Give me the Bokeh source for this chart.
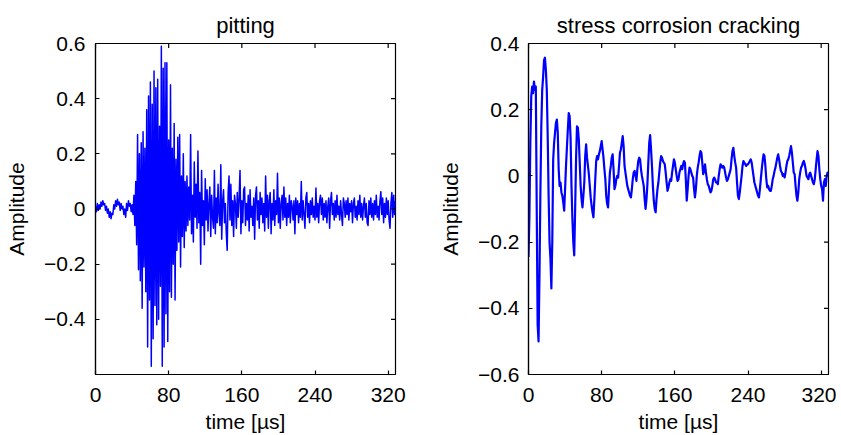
import numpy as np
from bokeh.plotting import figure
from bokeh.layouts import row
from bokeh.models import FixedTicker, Range1d
from bokeh.embed import file_html
from bokeh.resources import INLINE

# ---------------- data ----------------
sample_interval_us = 1.0  # one value per microsecond

pitting_amplitude = [
    .01, -.01, .02, -.005, .015, .0, .025, .01, .03, .015,
    .02, -.005, .01, -.015, .0, -.03, -.01, -.035, -.015, -.02,
    .015, .0, .03, .01, .035, .015, .025, -.005, .02, .0,
    .01, -.02, .0, -.03, .02, -.005, .03, .01, .02, -.01,
    .015, -.02, .05, -.06, .1, -.13, .27, -.22, .2, -.26,
    .24, -.36, .28, -.21, .22, -.3, .36, -.5, .41, -.33,
    .46, -.57, .38, -.47, .5, -.35, .44, -.42, .47, -.4,
    .3, -.28, .59, -.57, .51, -.5, .53, -.38, .53, -.48,
    .25, -.3, .45, -.32, .22, -.2, .31, -.33, .18, -.15,
    .26, -.12, .27, -.21, .12, -.1, .2, -.14, .1, -.08,
    .12, -.06, .08, -.04, .27, -.09, .05, -.12, .17, -.03,
    .09, -.07, .21, -.05, .06, -.2, .14, -.06, .03, -.13,
    .11, -.04, .07, -.08, .02, .08, -.1, .05, -.03, -.07,
    .14, -.09, .04, -.05, .09, -.02, -.06, .16, -.11, .03,
    .07, -.05, .02, -.09, -.15, .06, .12, -.04, .09, -.06,
    .03, -.1, .05, .02, -.07, .06, -.03, .04, .14, -.09,
    .03, -.05, .07, .08, -.06, .02, -.04, .05, -.08, .07,
    -.03, .01, -.06, .04, -.11, .05, .08, -.04, .03, -.07,
    .06, -.02, .04, -.05, .02, -.08, .12, -.03, .05, -.07,
    .03, .06, -.09, .02, -.04, .07, -.06, .03, -.02, .13,
    -.05, .04, -.07, .02, .05, -.04, .08, -.03, .04, -.06,
    .02, -.03, .05, -.05, .03, .01, -.04, .03, -.09, .04,
    -.02, .03, -.05, .02, -.03, .1, -.04, .03, -.02, -.07,
    .04, .06, -.03, .02, -.05, .03, -.02, .04, -.03, .01,
    -.04, .076, -.03, .02, -.05, .03, .05, -.02, .04, -.04,
    .02, -.03, .03, -.05, .01, .04, -.07, .03, .06, -.02,
    .02, -.04, .03, -.03, .05, -.02, .01, -.04, .03, -.02,
    -.06, .04, .02, -.03, .03, -.02, .04, -.04, .02, -.01,
    .03, -.05, .02, .04, -.03, .01, -.04, .03, -.02, .05,
    -.03, .02, -.04, .01, .04, -.03, .02, -.05, -.06, .03,
    -.02, .04, -.03, .02, -.04, .03, -.02, .05, -.03, .01,
    -.04, .03, .063, -.02, .04, -.05, .02, -.03, .04, -.02,
    .03, -.04, -.07, .02, .06, -.03, .05, -.02, .03,
]

scc_amplitude = [
    -.245, -.12, .1, .24, .27, .25, .285, .26, .27, -.1,
    -.45, -.5, -.3, -.05, .15, .26, .3, .35, .357, .32,
    .26, .12, -.06, -.2, -.25, -.34, -.2, .05, .1, .13,
    .16, .17, .13, .02, -.03, -.02, -.05, -.06, -.08, -.105,
    -.04, .03, .085, .14, .19, .18, .115, -.03, -.13, -.2,
    -.24, -.1, .05, .15, .145, .11, .04, -.03, -.07, -.095,
    -.06, -.02, .06, .095, .055, .03, .005, -.03, -.065, -.09,
    -.11, -.125, -.07, -.01, .045, .06, .05, .065, .075, .09,
    .105, .08, .055, .02, -.01, -.06, -.085, -.095, -.04, .01,
    .03, .055, .065, .02, -.04, -.03, -.01, .0, -.005, .03,
    .07, .08, .1, .12, .09, .03, .01, -.01, -.03, -.04,
    -.05, -.06, -.065, -.04, -.01, .01, .015, .0, -.015, .02,
    .045, .055, .05, .02, .0, -.015, -.03, -.07, -.1, -.07,
    -.025, .04, .1, .123, .08, .03, -.03, -.075, -.1, -.11,
    -.07, -.04, -.02, .01, .04, .06, .055, .045, .04, .035,
    .01, -.02, -.045, -.035, -.02, -.01, -.015, .01, .03, .05,
    .04, .02, .0, -.015, -.01, .01, .02, .03, .02, .035,
    .045, .04, -.01, -.075, -.04, .0, .025, .02, .01, .0,
    -.005, -.04, -.065, -.04, .0, .025, .04, .06, .075, .07,
    .04, .005, .015, .035, .01, -.01, -.025, -.03, -.04, -.05,
    -.045, -.03, -.01, -.005, -.01, -.02, -.02, -.025, .0, .02,
    .035, .03, .025, .03, .025, .01, -.005, -.015, -.01, .0,
    .01, .02, .05, .075, .085, .06, .04, .025, -.02, -.06,
    -.07, -.05, -.025, .0, .03, .045, .04, .035, .03, .035,
    .035, .04, .045, .05, .04, .02, .0, -.02, -.03, -.04,
    -.05, -.06, -.065, -.04, -.01, .02, .045, .065, .06, .03,
    -.01, -.035, -.03, -.04, -.045, -.045, -.03, -.01, .0, .015,
    .025, .04, .055, .065, .05, .03, .015, .01, .0, .005,
    -.005, .01, .03, .045, .05, .06, .075, .09, .07, .04,
    .01, .005, -.03, -.06, -.075, -.05, -.01, .01, .025, .03,
    .04, .045, .035, .02, .0, -.005, -.01, .005, .01, .0,
    -.01, -.02, -.025, -.01, .02, .05, .075, .06, .02, -.01,
    -.03, -.04, -.075, -.02, -.01, -.03, .0, .01, .0,
]

x_ticks = [0, 80, 160, 240, 320]
x_range_us = (0, 328)

pitting_y_range = (-0.6, 0.6)
pitting_y_ticks = [-0.4, -0.2, 0, 0.2, 0.4, 0.6]
pitting_y_labels = ["\u22120.4", "\u22120.2", "0", "0.2", "0.4", "0.6"]

scc_y_range = (-0.6, 0.4)
scc_y_ticks = [-0.6, -0.4, -0.2, 0, 0.2, 0.4]
scc_y_labels = ["\u22120.6", "\u22120.4", "\u22120.2", "0", "0.2", "0.4"]

titles = ["pitting", "stress corrosion cracking"]
x_label = "time [\u00b5s]"
y_label = "Amplitude"

FONT = "Liberation Sans"
FS = "21px"


def make_panel(title, amplitude, y_range, y_ticks, y_labels, width,
               border_left, border_right, line_width, tick_label_gap):
    t = np.arange(len(amplitude)) * sample_interval_us
    p = figure(width=width, height=435,
               x_range=Range1d(*x_range_us), y_range=Range1d(*y_range),
               output_backend="svg", toolbar_location=None,
               min_border_left=border_left, min_border_right=border_right,
               min_border_top=43, min_border_bottom=59)
    p.line(t, amplitude, line_color="#0000ff", line_width=line_width,
           line_join="round")

    # mirrored inside ticks on the top and right edges (MATLAB "box on");
    # dash markers centred on the frame edge, clipped to the frame
    p.scatter(x=x_ticks, y=[y_range[1]] * len(x_ticks), marker="dash",
              size=9, angle=np.pi / 2, line_color="black", line_width=1.2)
    p.scatter(x=[x_range_us[1]] * len(y_ticks), y=y_ticks, marker="dash",
              size=9, line_color="black", line_width=1.2)

    p.title.text = title
    p.title.align = "center"
    p.title.text_font = FONT
    p.title.text_font_size = "22px"
    p.title.text_font_style = "normal"
    p.title.text_color = "black"
    p.title.standoff = 12

    p.xgrid.visible = False
    p.ygrid.visible = False
    p.outline_line_color = "black"
    p.outline_line_width = 1.2
    p.background_fill_color = "white"
    p.border_fill_color = "white"

    overrides = {v: s for v, s in zip(y_ticks, y_labels)}

    for ax, ticks in ((p.xaxis[0], x_ticks), (p.yaxis[0], y_ticks)):
        ax.ticker = FixedTicker(ticks=ticks)
        ax.major_tick_in = 4
        ax.major_tick_out = 0
        ax.minor_tick_in = 0
        ax.minor_tick_out = 0
        ax.axis_line_color = "black"
        ax.axis_line_width = 1.2
        ax.major_tick_line_color = "black"
        ax.major_tick_line_width = 1.2
        ax.major_label_text_font = FONT
        ax.major_label_text_font_size = FS
        ax.major_label_text_color = "black"
        ax.axis_label_text_font = FONT
        ax.axis_label_text_font_size = FS
        ax.axis_label_text_font_style = "normal"
        ax.axis_label_text_color = "black"

    p.xaxis[0].axis_label = x_label
    p.xaxis[0].major_label_standoff = 13
    p.xaxis[0].axis_label_standoff = 5
    p.yaxis[0].axis_label = y_label
    p.yaxis[0].major_label_standoff = tick_label_gap
    p.yaxis[0].axis_label_standoff = 13
    p.yaxis[0].major_label_overrides = overrides
    return p


left = make_panel(titles[0], pitting_amplitude, pitting_y_range,
                  pitting_y_ticks, pitting_y_labels,
                  width=415, border_left=95, border_right=20,
                  line_width=1.5, tick_label_gap=10)
right = make_panel(titles[1], scc_amplitude, scc_y_range,
                   scc_y_ticks, scc_y_labels,
                   width=421, border_left=113, border_right=8,
                   line_width=2.2, tick_label_gap=9)

layout = row(left, right)
open("out.html", "w").write(file_html(layout, INLINE))
